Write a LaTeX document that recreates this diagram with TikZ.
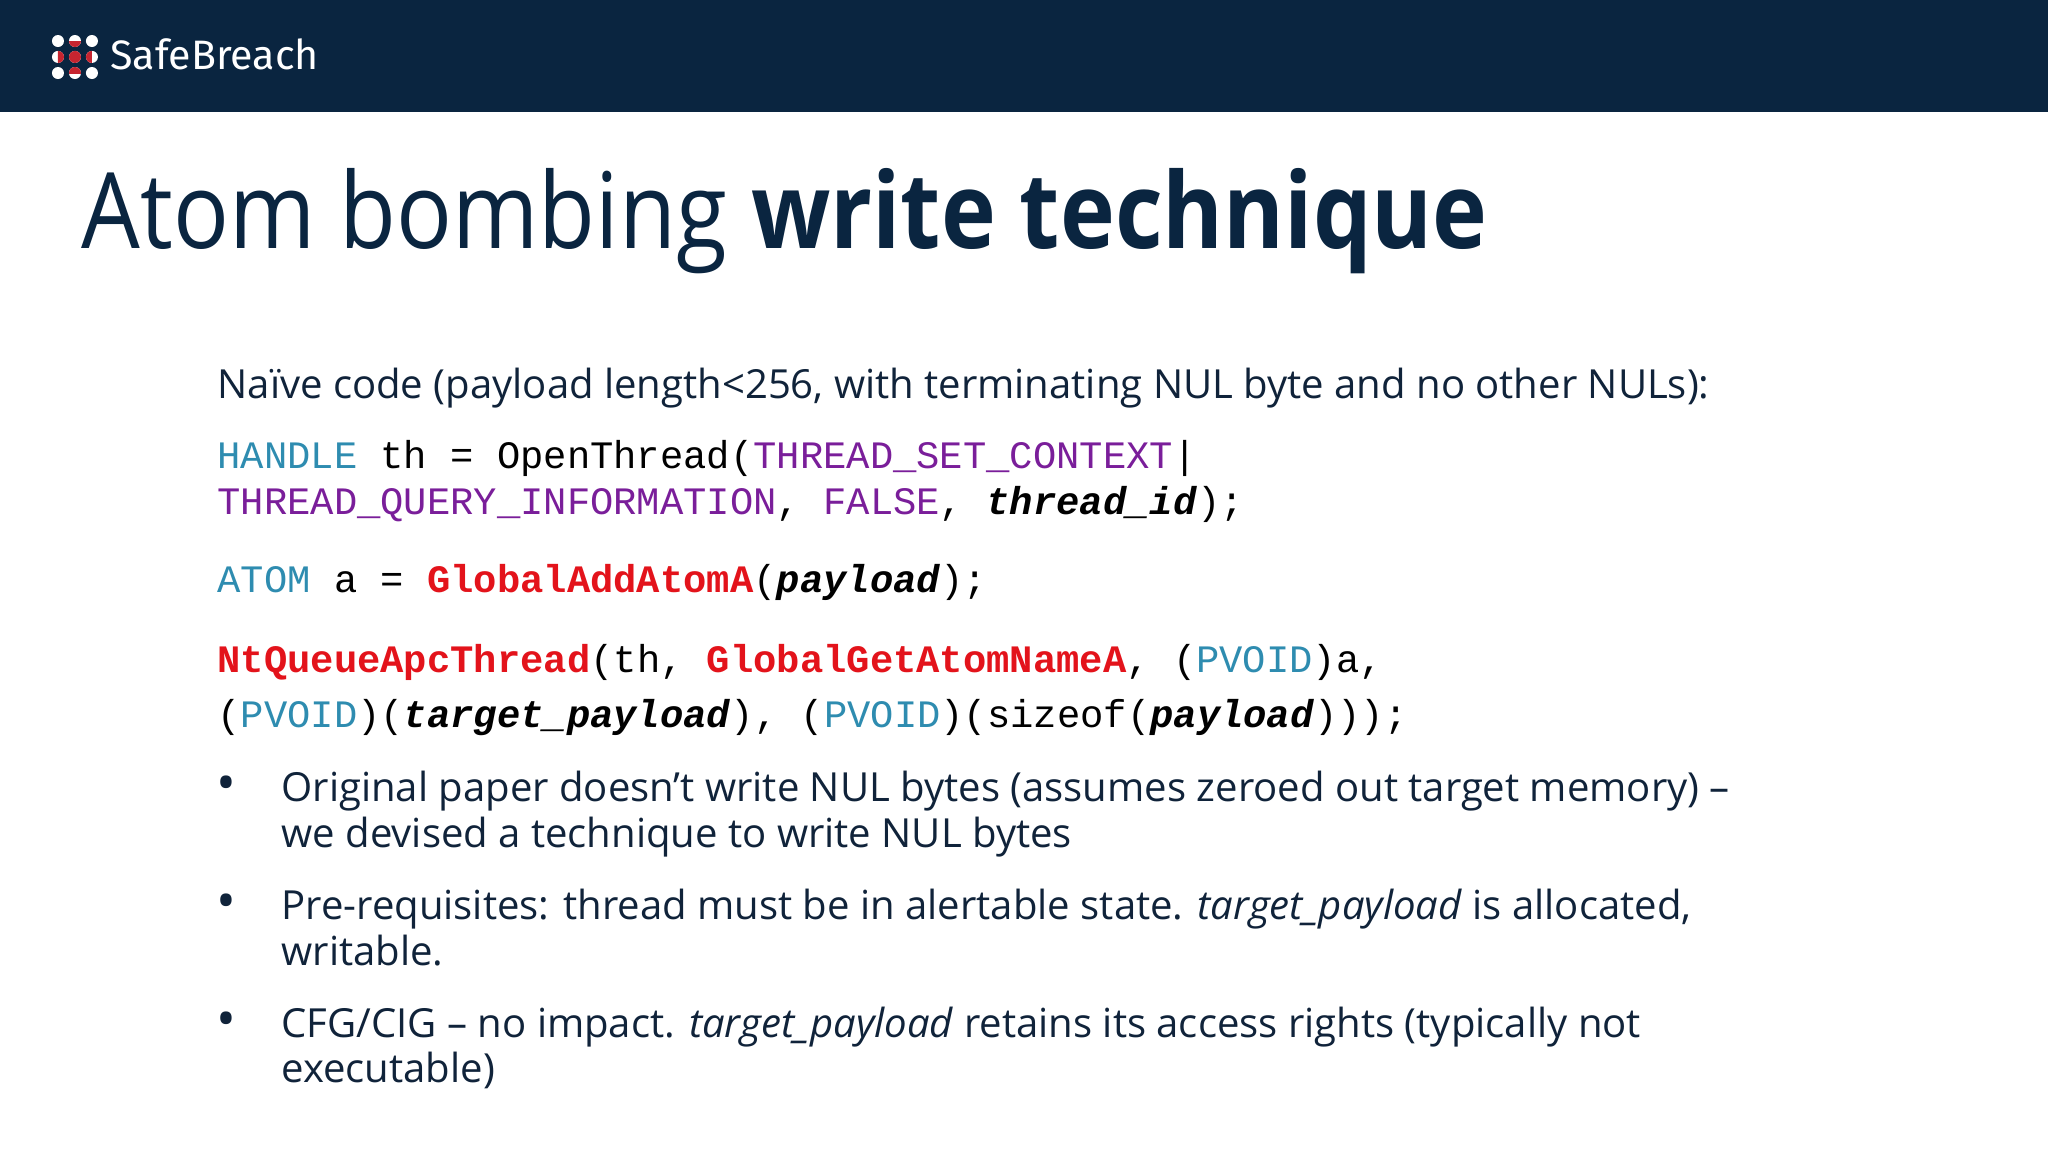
\documentclass[tikz,border=0pt]{standalone}
\usepackage{fontspec}
\setmainfont{Open Sans}
\setmonofont{Liberation Mono}
\newfontfamily\logofont{Fira Sans}
\newfontfamily\titlefont{Open Sans}[FakeStretch=0.88]
\definecolor{navy}{HTML}{0A2540}
\definecolor{ink}{HTML}{10233A}
\definecolor{teal}{HTML}{2E8CB0}
\definecolor{purp}{HTML}{7A1E9A}
\definecolor{fred}{HTML}{E3131B}
\definecolor{lred}{HTML}{C62530}
\newcommand{\kw}[1]{\textcolor{teal}{#1}}
\newcommand{\cn}[1]{\textcolor{purp}{#1}}
\newcommand{\fn}[1]{\textcolor{fred}{\textbf{#1}}}
\newcommand{\vr}[1]{\textbf{\textit{#1}}}
\begin{document}
\begin{tikzpicture}[x=0.01306cm,y=-0.01306cm,
  body/.style={anchor=base west,inner sep=0pt,text=ink,font=\fontsize{11.4pt}{13pt}\selectfont},
  code/.style={anchor=base west,inner sep=0pt,text=black,font=\ttfamily\fontsize{11.05pt}{13pt}\selectfont}]
\useasboundingbox (0,0) rectangle (1568,882);
\fill[white] (0,0) rectangle (1568,882);
\fill[navy] (0,0) rectangle (1568,86);
% logo
\foreach \x in {44.4,57.4,70.4}{\foreach \y in {31.4,43.6,55.9}{\fill[white] (\x,\y) circle (4.6);}}
\fill[lred] (57.4,43.6) circle (4.6);
\begin{scope}\clip (52,31.4) rectangle (63,37);\fill[lred] (57.4,31.4) circle (4.6);\end{scope}
\begin{scope}\clip (52,50.3) rectangle (63,55.9);\fill[lred] (57.4,55.9) circle (4.6);\end{scope}
\begin{scope}\clip (44.4,38) rectangle (50,49);\fill[lred] (44.4,43.6) circle (4.6);\end{scope}
\begin{scope}\clip (64.8,38) rectangle (70.4,49);\fill[lred] (70.4,43.6) circle (4.6);\end{scope}
\node[anchor=base west,inner sep=0pt,text=white,font=\logofont\fontsize{11.7pt}{13pt}\selectfont] (logo) at (84,53) {SafeBreach};
% title
\node[anchor=base west,inner sep=0pt,text=navy,font=\titlefont\fontsize{30pt}{34pt}\selectfont] (title) at (62,190) {Atom bombing \textbf{write technique}};
\node[body] (intro) at (166,305) {Naïve code (payload length<256, with terminating NUL byte and no other NULs):};
\node[code] (c1) at (166,359) {\kw{HANDLE} th = OpenThread(\cn{THREAD\_SET\_CONTEXT}|};
\node[code] (c2) at (166,394) {\cn{THREAD\_QUERY\_INFORMATION}, \cn{FALSE}, \vr{thread\_id});};
\node[code] (c3) at (166,454) {\kw{ATOM} a = \fn{GlobalAddAtomA}(\vr{payload});};
\node[code] (c4) at (166,515) {\fn{NtQueueApcThread}(th, \fn{GlobalGetAtomNameA}, (\kw{PVOID})a,};
\node[code] (c5) at (166,557) {(\kw{PVOID})(\vr{target\_payload}), (\kw{PVOID})(sizeof(\vr{payload})));};
\foreach \y/\n in {614/b1,704/b2,794/b3}{\node[body,font=\fontsize{15pt}{13pt}\selectfont] (\n) at (165,\y) {•};}
\node[body] (l1) at (215,614) {Original paper doesn’t write NUL bytes (assumes zeroed out target memory) –};
\node[body] (l2) at (215,649) {we devised a technique to write NUL bytes};
\node[body] (l3) at (215,704) {Pre-requisites: thread must be in alertable state. \textit{target\_payload} is allocated,};
\node[body] (l4) at (215,739) {writable.};
\node[body] (l5) at (215,794) {CFG/CIG – no impact. \textit{target\_payload} retains its access rights (typically not};
\node[body] (l6) at (215,829) {executable)};
\end{tikzpicture}
\end{document}
